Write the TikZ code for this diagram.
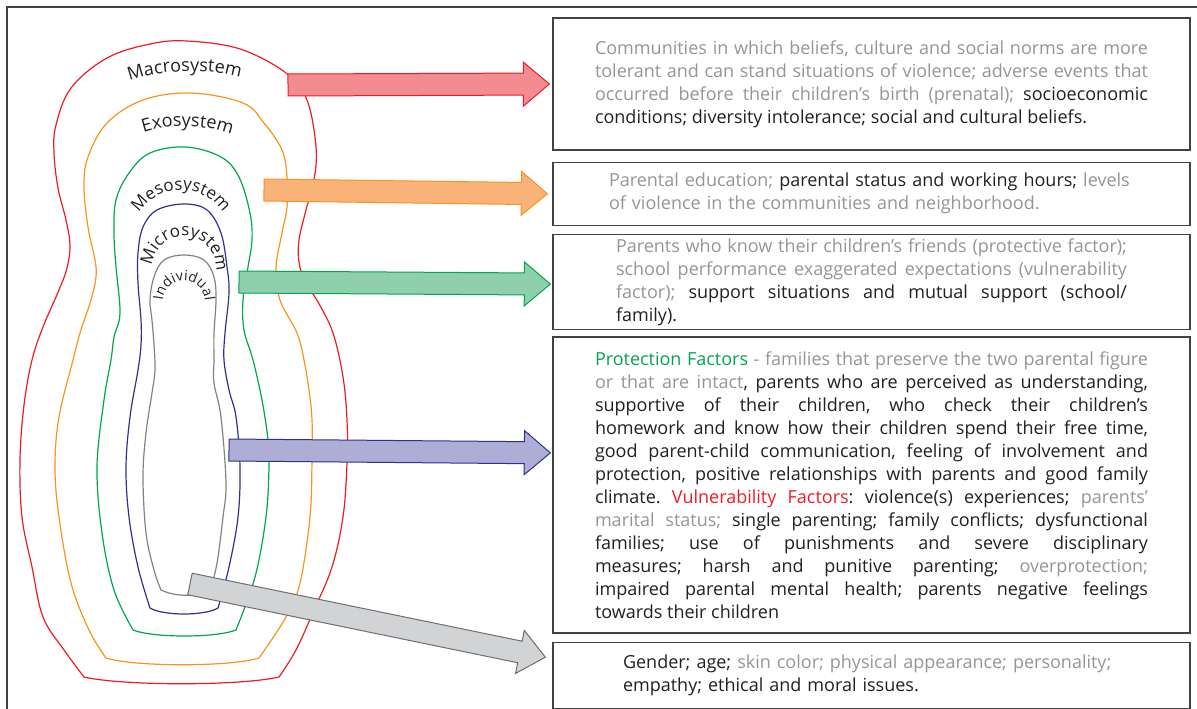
\documentclass[tikz,border=0pt]{standalone}
\usepackage{fontspec}
\setmainfont{Open Sans}
\usepackage{xcolor}
\usetikzlibrary{calc, positioning, decorations.text}

\definecolor{macroRed}{RGB}{237,28,36}
\definecolor{exoOrange}{RGB}{247,148,29}
\definecolor{mesoGreen}{RGB}{0,166,81}
\definecolor{microBlue}{RGB}{46,49,146}
\definecolor{indivGrey}{RGB}{128,130,133}
\definecolor{macroFill}{RGB}{242,140,145}
\definecolor{exoFill}{RGB}{249,178,120}
\definecolor{mesoFill}{RGB}{143,207,172}
\definecolor{microFill}{RGB}{173,173,214}
\definecolor{indivFill}{RGB}{209,211,212}
\definecolor{indivEdge}{RGB}{109,110,113}
\definecolor{txtgrey}{RGB}{147,149,152}
\definecolor{txtblack}{RGB}{35,31,32}
\definecolor{txtgreen}{RGB}{0,166,81}
\definecolor{txtred}{RGB}{237,28,36}
\definecolor{boxline}{RGB}{65,64,66}

\newcommand{\bodyfont}{\fontsize{18}{23}\selectfont\frenchspacing
  \spaceskip=0.26em plus 0.6em minus 0.08em\hyphenpenalty=10000\tolerance=10000\hbadness=10000}
\newcommand{\sysfont}[1]{\fontsize{#1}{#1}\selectfont}

% fat block arrow: tail, tip, style
\newcommand{\fatarrow}[3]{%
  \path (#2) coordinate (arrTip);
  \path ($(arrTip)!26pt!(#1)$) coordinate (arrHead);
  \filldraw[#3] ($(#1)!11pt!90:(arrTip)$) -- ($(arrHead)!11pt!90:(arrTip)$) -- ($(arrHead)!22pt!90:(arrTip)$)
    -- (arrTip) -- ($(arrHead)!22pt!-90:(arrTip)$) -- ($(arrHead)!11pt!-90:(arrTip)$) -- ($(#1)!11pt!-90:(arrTip)$) -- cycle;}

\begin{document}
\begin{tikzpicture}[
    x=1pt, y=1pt,
    box/.style={draw=boxline, line width=1.3pt, inner sep=0pt, minimum width=637pt, text=txtblack, align=justify, font=\bodyfont},
    sys/.style={line width=1.2pt, line join=round},
    frame/.style={draw=boxline, line width=1.2pt},
    fat/.style={line width=1pt, line join=miter, draw=#1},
]
\useasboundingbox (0,0) rectangle (1197,-709);

% === FRAME ===
\draw[frame] (7,-709) -- (7,-7) -- (1197,-7);

% === NESTED SYSTEMS ===
\draw[sys, macroRed] plot[smooth, tension=0.6] coordinates {(84,-677) (64,-650) (43,-617) (32,-567) (22,-517) (20,-460) (24,-405) (32,-360) (43,-327) (59,-290) (67,-268) (70,-245) (66,-220) (58,-188) (54,-153) (56,-125) (71,-88) (107,-58) (150,-44) (187,-41) (240,-49) (286,-73) (307,-100) (316,-147) (314,-180) (306,-210) (299,-240) (299,-262) (305,-282) (318,-302) (333,-333) (343,-377) (347,-420) (347,-463) (343,-517) (332,-567) (314,-610) (296,-650) (279,-677)}
    .. controls (240,-686) and (123,-686) .. (84,-677) -- cycle;
\draw[sys, exoOrange] plot[smooth, tension=0.6] coordinates {(106,-658) (89,-630) (71,-583) (59,-517) (55,-467) (59,-417) (73,-360) (80,-333) (91,-300) (96,-277) (95,-260) (88,-227) (84,-187) (88,-157) (107,-123) (143,-100) (191,-93) (243,-103) (264,-123) (282,-150) (287,-177) (287,-207) (282,-233) (276,-268) (280,-300) (297,-333) (304,-360) (309,-390) (312,-420) (312,-460) (310,-517) (300,-583) (286,-617) (259,-658)}
    .. controls (230,-667) and (135,-667) .. (106,-658) -- cycle;
\draw[sys, mesoGreen] plot[smooth, tension=0.6] coordinates {(133,-630) (114,-590) (102,-533) (97,-467) (104,-400) (111,-360) (114,-337) (120,-313) (116,-267) (114,-233) (116,-200) (129,-173) (150,-153) (186,-147) (221,-157) (239,-177) (250,-213) (252,-240) (248,-267) (243,-300) (244,-330) (253,-360) (262,-400) (268,-440) (269,-467) (266,-517) (255,-577) (236,-630)}
    .. controls (216,-638) and (153,-638) .. (133,-630) -- cycle;
\draw[sys, microBlue] plot[smooth, tension=0.6] coordinates {(150,-608) (138,-567) (129,-517) (126,-467) (130,-417) (138,-370) (141,-345) (141,-320) (138,-283) (138,-253) (143,-227) (157,-210) (184,-204) (207,-210) (221,-233) (227,-267) (229,-293) (225,-333) (224,-360) (229,-390) (236,-417) (240,-467) (238,-517) (229,-567) (218,-608)}
    .. controls (205,-616) and (163,-616) .. (150,-608) -- cycle;
\draw[sys, indivGrey] plot[smooth, tension=0.6] coordinates {(161,-590) (154,-570) (146,-533) (143,-477) (146,-433) (152,-393) (155,-370) (154,-345) (152,-320) (150,-300) (154,-277) (164,-260) (184,-255) (204,-260) (214,-277) (216,-300) (214,-333) (214,-360) (214,-383) (221,-417) (226,-483) (223,-517) (218,-557) (214,-577) (210,-590)}
    .. controls (195,-597) and (176,-597) .. (161,-590) -- cycle;

% === SYSTEM LABELS ===
\path[decorate, decoration={text along path, text align=center, text={|\sysfont{18}\color{txtblack}|Macrosystem}}]
    (118,-86) .. controls (150,-68) and (220,-66) .. (252,-82);
\path[decorate, decoration={text along path, text align=center, text={|\sysfont{18}\color{txtblack}|Exosystem}}]
    (130,-138) .. controls (160,-122) and (210,-122) .. (245,-140);
\path[decorate, decoration={text along path, text align=center, text={|\sysfont{17}\color{txtblack}|Mesosystem}}]
    (181,-240) ++(180:50) arc[start angle=180, end angle=0, radius=50];
\path[decorate, decoration={text along path, text align=center, text={|\sysfont{17}\color{txtblack}|Microsystem}}]
    (184,-268) ++(200:32) arc[start angle=200, end angle=-30, radius=32];
\path[decorate, decoration={text along path, text align=center, text={|\sysfont{14}\color{txtblack}|Individual}}]
    (184,-302) ++(195:21) arc[start angle=195, end angle=-15, radius=21];

% === TEXT BOXES ===
\node[box, text width=553pt, minimum height=132pt] (macroBox) at (871.5,-84) {\color{txtgrey}Communities in which beliefs, culture and social norms are more\linebreak tolerant and can stand situations of violence; adverse events that\linebreak occurred before their children’s birth (prenatal); \color{txtblack}socioeconomic\linebreak conditions; diversity intolerance; social and cultural beliefs.};
\node[box, text width=525pt, minimum height=63pt, align=left, below=11pt of macroBox] (exoBox) {\textcolor{txtgrey}{Parental education;} parental status and working hours; \textcolor{txtgrey}{levels}\\\textcolor{txtgrey}{of violence in the communities and neighborhood.}};
\node[box, text width=511pt, minimum height=95pt, below=8pt of exoBox] (mesoBox) {\color{txtgrey}Parents who know their children’s friends (protective factor);\linebreak school performance exaggerated expectations (vulnerability\linebreak factor); \color{txtblack}support situations and mutual support (school/\linebreak family).};
\node[box, text width=553pt, minimum height=296pt, below=6pt of mesoBox] (microBox) {\textcolor{txtgreen}{Protection Factors} \textcolor{txtgrey}{- families that preserve the two parental figure\linebreak or that are intact}, parents who are perceived as understanding,\linebreak supportive of their children, who check their children’s\linebreak homework and know how their children spend their free time,\linebreak good parent-child communication, feeling of involvement and\linebreak protection, positive relationships with parents and good family\linebreak climate. \textcolor{txtred}{Vulnerability Factors}: violence(s) experiences; \textcolor{txtgrey}{parents’\linebreak marital status;} single parenting; family conflicts; dysfunctional\linebreak families; use of punishments and severe disciplinary\linebreak measures; harsh and punitive parenting; \textcolor{txtgrey}{overprotection;}\linebreak impaired parental mental health; parents negative feelings\linebreak towards their children};
\node[box, text width=497pt, minimum height=66pt, align=left, below=8pt of microBox] (indivBox) {Gender; age; \textcolor{txtgrey}{skin color; physical appearance; personality;}\\empathy; ethical and moral issues.};

% === BLOCK ARROWS ===
\coordinate (macroTail) at (288,-85);
\coordinate (exoTail) at (264,-190);
\coordinate (mesoTail) at (239,-282);
\coordinate (microTail) at (229,-450);
\coordinate (indivTail) at (190,-584);

\fatarrow{macroTail}{[xshift=-3pt]macroBox.west}{fat=macroRed, fill=macroFill}
\fatarrow{exoTail}{[xshift=-5pt]exoBox.west}{fat=exoOrange, fill=exoFill}
\fatarrow{mesoTail}{[xshift=-2pt, yshift=-2pt]mesoBox.west}{fat=mesoGreen, fill=mesoFill}
\fatarrow{microTail}{[xshift=-2pt, yshift=32pt]microBox.west}{fat=microBlue, fill=microFill}
\fatarrow{indivTail}{[xshift=-7pt, yshift=18pt]indivBox.west}{fat=indivEdge, fill=indivFill}

\end{tikzpicture}
\end{document}
